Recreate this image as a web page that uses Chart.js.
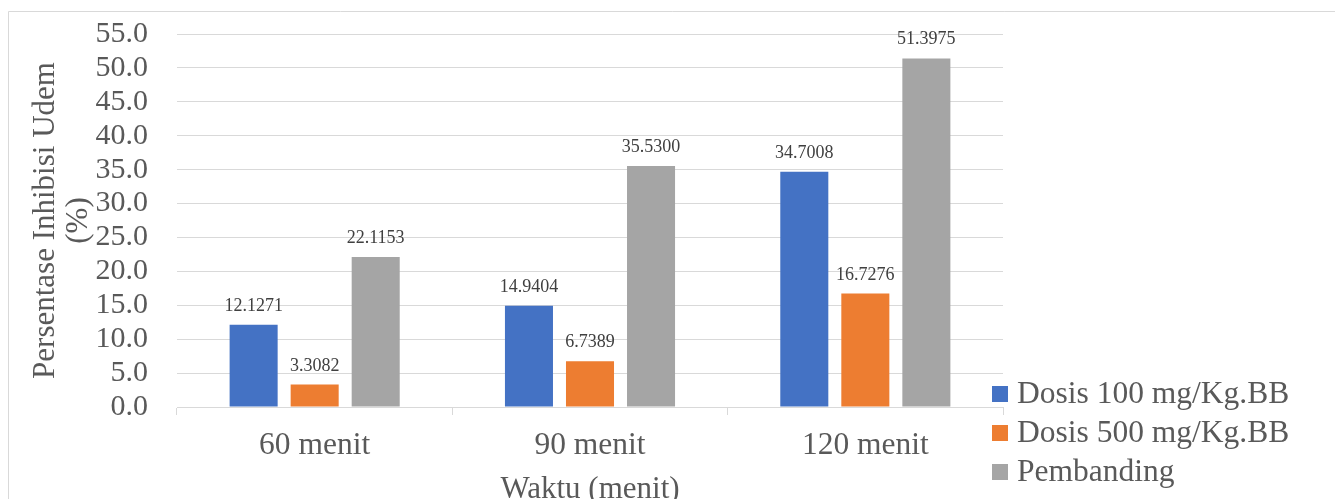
<!DOCTYPE html>
<html>
<head>
<meta charset="utf-8">
<script src="https://cdn.jsdelivr.net/npm/chart.js@4.4.1/dist/chart.umd.min.js"></script>
<style>
html,body{margin:0;padding:0;background:#fff;}
canvas{display:block;}
</style>
</head>
<body>
<canvas id="c" width="1335" height="499"></canvas>
<script>
const categories = ['60 menit', '90 menit', '120 menit'];
const seriesNames = ['Dosis 100 mg/Kg.BB', 'Dosis 500 mg/Kg.BB', 'Pembanding'];
const dosis100 = [12.1271, 14.9404, 34.7008];
const dosis500 = [3.3082, 6.7389, 16.7276];
const pembanding = [22.1153, 35.5300, 51.3975];
const seriesColors = ['#4472C4', '#ED7D31', '#A5A5A5'];
const yTitle = ['Persentase Inhibisi Udem', '(%)'];
const xTitle = 'Waktu (menit)';

const FONT = "'Liberation Serif', 'Times New Roman', serif";
const TEXT = '#595959';

const frame = {
  id: 'frame',
  beforeDraw(chart) {
    const ctx = chart.ctx;
    ctx.save();
    ctx.fillStyle = '#fff';
    ctx.fillRect(0, 0, chart.width, chart.height);
    ctx.strokeStyle = '#d9d9d9';
    ctx.lineWidth = 1;
    ctx.beginPath();
    ctx.moveTo(8.5, chart.height + 5);
    ctx.lineTo(8.5, 11.5);
    ctx.lineTo(chart.width + 5, 11.5);
    ctx.stroke();
    ctx.restore();
  }
};

const dataLabels = {
  id: 'dataLabels',
  afterDatasetsDraw(chart) {
    const ctx = chart.ctx;
    ctx.save();
    ctx.font = '18px ' + FONT;
    ctx.fillStyle = '#404040';
    ctx.textAlign = 'center';
    ctx.textBaseline = 'alphabetic';
    chart.data.datasets.forEach((ds, i) => {
      const meta = chart.getDatasetMeta(i);
      meta.data.forEach((bar, j) => {
        ctx.fillText(ds.data[j].toFixed(4), bar.x, bar.y - 14);
      });
    });
    ctx.restore();
  }
};

const customLegend = {
  id: 'customLegend',
  afterDraw(chart) {
    const ctx = chart.ctx;
    ctx.save();
    ctx.font = '31.5px ' + FONT;
    ctx.textBaseline = 'middle';
    ctx.textAlign = 'left';
    chart.data.datasets.forEach((ds, i) => {
      const cy = 394 + i * 39;
      ctx.fillStyle = ds.backgroundColor;
      ctx.fillRect(992, cy - 8, 16, 16);
      ctx.fillStyle = TEXT;
      ctx.fillText(ds.label, 1017, cy + 1);
    });
    ctx.restore();
  }
};

const seriesData = [dosis100, dosis500, pembanding];

new Chart(document.getElementById('c'), {
  type: 'bar',
  data: {
    labels: categories,
    datasets: seriesNames.map((name, i) => ({
      label: name,
      data: seriesData[i],
      backgroundColor: seriesColors[i],
      categoryPercentage: 0.665,
      barPercentage: 0.787
    }))
  },
  options: {
    responsive: false,
    animation: false,
    devicePixelRatio: 1,
    layout: { padding: { left: 0, right: 332, top: 34, bottom: 0 } },
    plugins: {
      legend: { display: false },
      tooltip: { enabled: false }
    },
    scales: {
      x: {
        grid: {
          offset: true,
          drawOnChartArea: false,
          drawTicks: true,
          tickLength: 8,
          color: '#d9d9d9'
        },
        border: { display: true, color: '#d9d9d9', width: 1 },
        ticks: {
          color: TEXT,
          font: { family: FONT, size: 31.5 },
          padding: 12,
          maxRotation: 0
        },
        title: {
          display: true,
          text: xTitle,
          color: TEXT,
          font: { family: FONT, size: 31, lineHeight: 1.0 },
          padding: { top: 0, bottom: -6 }
        },
        afterFit(scale) { scale.height = 92; scale.paddingLeft = 0; scale.paddingRight = 0; }
      },
      y: {
        min: 0,
        max: 55,
        grid: { color: '#d9d9d9', drawTicks: false, lineWidth: 1 },
        border: { display: false },
        ticks: {
          stepSize: 5,
          autoSkip: false,
          color: TEXT,
          font: { family: FONT, size: 30 },
          padding: 29,
          callback: v => Number(v).toFixed(1)
        },
        title: {
          display: true,
          text: yTitle,
          color: TEXT,
          font: { family: FONT, size: 31, lineHeight: 1.05 },
          padding: { top: 30, bottom: 0 }
        },
        afterFit(scale) { scale.width = 177; scale.paddingTop = 0; scale.paddingBottom = 0; }
      }
    }
  },
  plugins: [frame, dataLabels, customLegend]
});
</script>
</body>
</html>
